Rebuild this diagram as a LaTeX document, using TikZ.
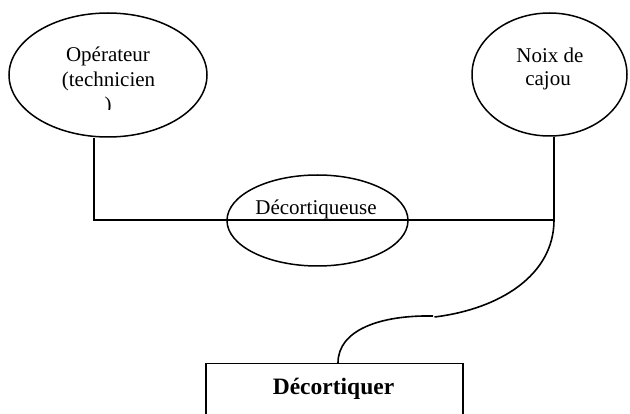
\documentclass[tikz,border=0pt]{standalone}
\usepackage{fontspec}
\setmainfont{Liberation Serif}
\usetikzlibrary{shapes.geometric}
\begin{document}
\begin{tikzpicture}[x=1pt,y=-1pt,
  oval/.style={draw, line width=1.5pt, ellipse, inner sep=0pt},
  txt/.style={anchor=base, inner sep=0pt, font=\fontsize{21}{25}\selectfont},
  boldtxt/.style={anchor=base, inner sep=0pt, font=\fontsize{23.5}{28}\selectfont\bfseries},
  taskbox/.style={draw, line width=1.5pt, rectangle, inner sep=0pt},
  wire/.style={line width=1.8pt},
  link/.style={line width=1.6pt}]
\useasboundingbox (0,0) rectangle (630,414);
\clip (0,0) rectangle (630,414);

% actors and machine
\node[oval, minimum width=198pt, minimum height=124pt] (op) at (108,75) {};
\node[oval, minimum width=155pt, minimum height=123pt] (noix) at (549.5,74.5) {};
\node[oval, minimum width=181pt, minimum height=91pt] (mach) at (317.5,220.5) {};

% texts inside the ovals
\node[txt] (opl1) at (108,62) {Opérateur};
\node[txt] (opl2) at (108.5,87) {(technicien};
\begin{scope}
  \clip (60,90) rectangle (160,110);
  \node[txt] (opl3) at (108,112) {)};
\end{scope}
\node[txt] (nxl1) at (550,63) {Noix de};
\node[txt] (nxl2) at (548,86) {cajou};
\node[txt] (machl) at (316,215) {Décortiqueuse};

% task box, open at the bottom edge
\node[taskbox, anchor=north, minimum width=257pt, minimum height=80pt] (dec) at (334.5,363) {};
\node[boldtxt] (decl) at (333.5,395) {Décortiquer};

% junction points
\coordinate (jl) at (94,220);
\coordinate (jr) at (554,220);
\coordinate (kink) at (434.5,316);

\draw[wire] (jl |- op.south) -- (jl) -- (jr) -- (jr |- noix.south);
\draw[link] (jr) .. controls (554,275) and (500,309) .. ([yshift=-1pt]kink);
\draw[link] ([xshift=-1.5pt]kink) .. controls (380,315) and (338,330) .. ([xshift=3.5pt]dec.north);
\end{tikzpicture}
\end{document}
